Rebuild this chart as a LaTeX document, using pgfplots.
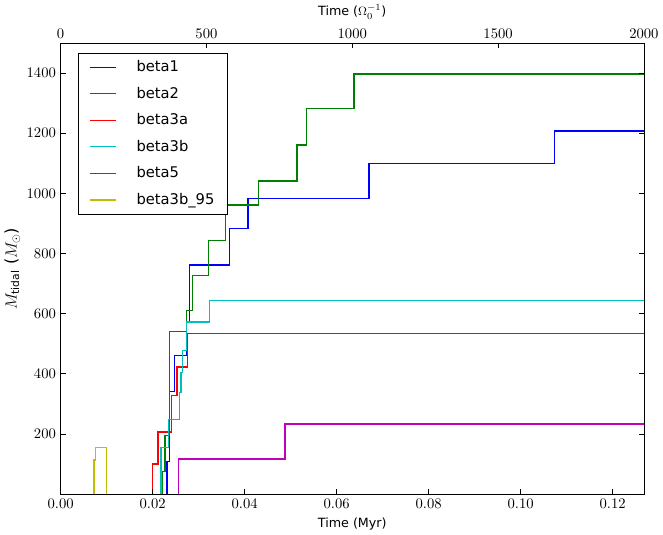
\documentclass[border=0pt]{standalone}
\usepackage{fontspec}
\setmainfont{DejaVu Sans}
\usepackage{pgfplots}
\pgfplotsset{compat=1.18}

\definecolor{mblue}{rgb}{0,0,1}
\definecolor{mgreen}{rgb}{0,0.5,0}
\definecolor{mred}{rgb}{1,0,0}
\definecolor{mcyan}{rgb}{0,0.75,0.75}
\definecolor{mmag}{rgb}{0.75,0,0.75}
\definecolor{molive}{rgb}{0.75,0.75,0}

\begin{document}
\begin{tikzpicture}
\begin{axis}[
    width=436.5pt, height=337.5pt, scale only axis,
    axis on top,
    xmin=0, xmax=0.1268,
    ymin=0, ymax=1500,
    xtick={0,0.02,0.04,0.06,0.08,0.10,0.12},
    xtick pos=bottom,
    scaled x ticks=false,
    xticklabel style={/pgf/number format/fixed,/pgf/number format/fixed zerofill,/pgf/number format/precision=2},
    yticklabel style={/pgf/number format/set thousands separator={}},
    ytick={200,400,600,800,1000,1200,1400},
    major tick length=4pt,
    tick style={line width=0.6pt, black},
    tick label style={font=\fontsize{11}{13}\selectfont},
    label style={font=\fontsize{9.5}{11}\selectfont},
    ylabel style={font=\fontsize{12}{14}\selectfont, yshift=-2pt},
    xlabel={Time (Myr)},
    ylabel={$M_{\mathrm{tidal}}$ ($M_\odot$)},
    legend cell align=left,
    legend style={draw=black, fill=white, at={(0.030,0.978)}, anchor=north west,
        font=\fontsize{11}{13}\selectfont, row sep=6pt, inner xsep=8pt, inner ysep=3.5pt,
        /tikz/every odd column/.append style={column sep=12.5pt}},
    legend image code/.code={\draw[#1] (0pt,0pt) -- (20pt,0pt);},
]
% beta1
\addplot[draw=mblue, const plot, line width=1pt] coordinates {
    (0.0231,0) (0.0231,108) (0.0236,341) (0.0247,462) (0.0274,575) (0.0280,762)
    (0.0367,883) (0.0407,983) (0.0670,1100) (0.1074,1208) (0.1268,1208)
};
% beta2
\addplot[draw=mgreen, const plot, line width=1pt] coordinates {
    (0.02216,0) (0.02216,74) (0.02266,194) (0.0236,541) (0.02739,611) (0.0287,727)
    (0.03218,843) (0.0358,961) (0.0430,1041) (0.05136,1161) (0.0534,1282)
    (0.06378,1397) (0.1268,1397)
};
% beta3a
\addplot[draw=mred, const plot, line width=1pt] coordinates {
    (0.0200,0) (0.0200,100) (0.0212,207) (0.0241,327) (0.0253,423) (0.0276,535) (0.1268,535)
};
% beta3b
\addplot[draw=mcyan, const plot, line width=1pt] coordinates {
    (0.02179,0) (0.02179,154) (0.02338,247) (0.02578,337) (0.02615,404) (0.02652,478)
    (0.02739,572) (0.03231,643) (0.1268,643)
};
% beta5
\addplot[draw=mmag, const plot, line width=1pt] coordinates {
    (0.02565,0) (0.02565,117) (0.0488,233) (0.1268,233)
};
% beta3b_95
\addplot[draw=molive, const plot, line width=1pt] coordinates {
    (0.00726,0) (0.00727,113) (0.00756,154) (0.0088,156) (0.0100,0)
};
\legend{beta1, beta2, beta3a, beta3b, beta5, beta3b\_95}
\end{axis}
\begin{axis}[
    width=436.5pt, height=337.5pt, scale only axis,
    xmin=0, xmax=2000,
    ymin=0, ymax=1500,
    axis x line*=top,
    axis y line=none,
    xtick={0,500,1000,1500,2000},
    xticklabel style={/pgf/number format/set thousands separator={}},
    major tick length=4pt,
    tick style={line width=0.6pt, black},
    tick label style={font=\fontsize{11}{13}\selectfont},
    label style={font=\fontsize{9.5}{11}\selectfont},
    xlabel={Time ($\Omega_0^{-1}$)},
]
\addplot[draw=none] coordinates {(0,0)};
\end{axis}
\end{tikzpicture}
\end{document}
